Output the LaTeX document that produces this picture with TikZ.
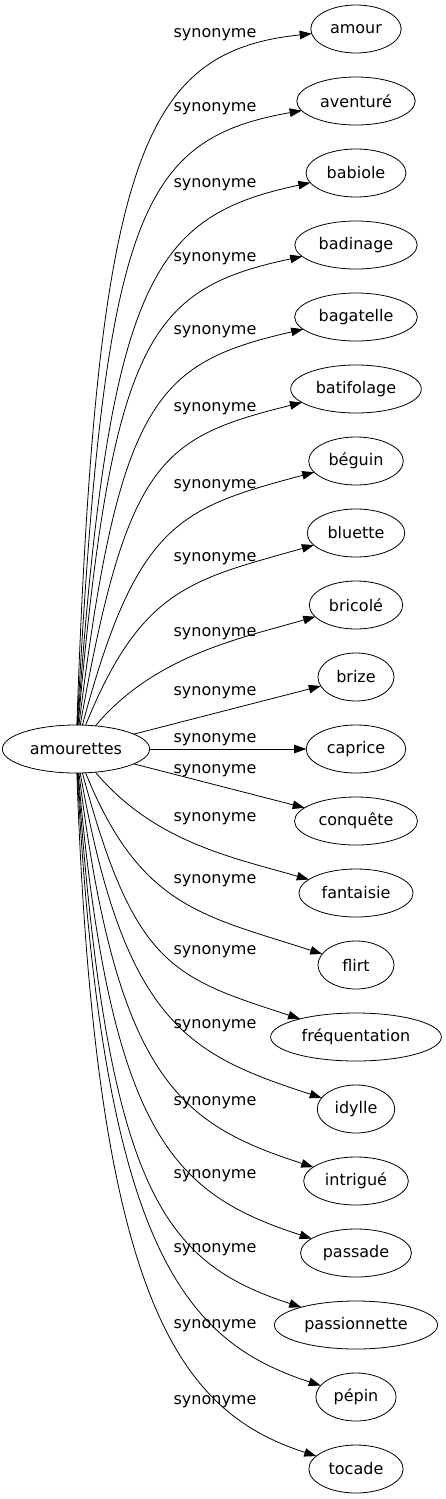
\documentclass[tikz,border=0pt]{standalone}
\usepackage{fontspec}
\setmainfont{DejaVu Sans}
\usetikzlibrary{positioning,arrows.meta,shapes.geometric}

\begin{document}
\begin{tikzpicture}[x=1pt,y=1pt,
         word/.style = {draw, ellipse, line width=0.8pt, minimum height=48pt,
         minimum width=76pt, inner xsep=6pt, inner ysep=2pt, outer sep=0pt,
         font=\fontsize{16pt}{19pt}\selectfont},
         rel/.style  = {line width=0.8pt, -{Triangle[length=12pt,width=8.5pt]}},
         syn/.style  = {anchor=base, inner sep=0pt,
         font=\fontsize{16pt}{19pt}\selectfont}
]
      \useasboundingbox (0,0) rectangle (446,-1499);

      \node[word] (a0) at (76,-749) {amourettes};

      % synonyms, one column
      \node[word]                    (t01) at (356,-29) {amour};
      \node[word, below=24pt of t01] (t02) {aventuré};
      \node[word, below=24pt of t02] (t03) {babiole};
      \node[word, below=24pt of t03] (t04) {badinage};
      \node[word, below=24pt of t04] (t05) {bagatelle};
      \node[word, below=24pt of t05] (t06) {batifolage};
      \node[word, below=24pt of t06] (t07) {béguin};
      \node[word, below=24pt of t07] (t08) {bluette};
      \node[word, below=24pt of t08] (t09) {bricolé};
      \node[word, below=24pt of t09] (t10) {brize};
      \node[word, below=24pt of t10] (t11) {caprice};
      \node[word, below=24pt of t11] (t12) {conquête};
      \node[word, below=24pt of t12] (t13) {fantaisie};
      \node[word, below=24pt of t13] (t14) {flirt};
      \node[word, below=24pt of t14] (t15) {fréquentation};
      \node[word, below=24pt of t15] (t16) {idylle};
      \node[word, below=24pt of t16] (t17) {intrigué};
      \node[word, below=24pt of t17] (t18) {passade};
      \node[word, below=24pt of t18] (t19) {passionnette};
      \node[word, below=24pt of t19] (t20) {pépin};
      \node[word, below=24pt of t20] (t21) {tocade};

      % edges up
      \draw[rel] (a0) to[out=88,in=186,out distance=570pt,in distance=170pt] (t01);
      \draw[rel] (a0) to[out=87,in=190,out distance=510pt,in distance=165pt] (t02);
      \draw[rel] (a0) to[out=86,in=192,out distance=450pt,in distance=160pt] (t03);
      \draw[rel] (a0) to[out=85,in=192,out distance=390pt,in distance=155pt] (t04);
      \draw[rel] (a0) to[out=83,in=193,out distance=330pt,in distance=150pt] (t05);
      \draw[rel] (a0) to[out=80,in=194,out distance=270pt,in distance=145pt] (t06);
      \draw[rel] (a0) to[out=75,in=195,out distance=210pt,in distance=140pt] (t07);
      \draw[rel] (a0) to[out=68,in=196,out distance=150pt,in distance=125pt] (t08);
      \draw[rel] (a0) to[out=50,in=196,out distance=91pt,in distance=80pt]   (t09);
      \draw[rel] (a0) -- (t10);
      \draw[rel] (a0) -- (t11);
      \draw[rel] (a0) -- (t12);
      % edges down
      \draw[rel] (a0) to[out=-50,in=164,out distance=91pt,in distance=80pt]   (t13);
      \draw[rel] (a0) to[out=-68,in=162,out distance=146pt,in distance=125pt] (t14);
      \draw[rel] (a0) to[out=-75,in=162,out distance=200pt,in distance=135pt] (t15);
      \draw[rel] (a0) to[out=-80,in=162,out distance=255pt,in distance=140pt] (t16);
      \draw[rel] (a0) to[out=-83,in=162,out distance=310pt,in distance=140pt] (t17);
      \draw[rel] (a0) to[out=-85,in=162,out distance=365pt,in distance=145pt] (t18);
      \draw[rel] (a0) to[out=-86,in=162,out distance=420pt,in distance=145pt] (t19);
      \draw[rel] (a0) to[out=-87,in=162,out distance=474pt,in distance=145pt] (t20);
      \draw[rel] (a0) to[out=-88,in=162,out distance=529pt,in distance=145pt] (t21);

      % edge labels
      \node[syn] (l01) at (215,-37)   {synonyme};
      \node[syn] (l02) at (215,-111)  {synonyme};
      \node[syn] (l03) at (215,-187)  {synonyme};
      \node[syn] (l04) at (215,-261)  {synonyme};
      \node[syn] (l05) at (215,-334)  {synonyme};
      \node[syn] (l06) at (215,-411)  {synonyme};
      \node[syn] (l07) at (215,-488)  {synonyme};
      \node[syn] (l08) at (215,-561)  {synonyme};
      \node[syn] (l09) at (215,-636)  {synonyme};
      \node[syn] (l10) at (215,-695)  {synonyme};
      \node[syn] (l11) at (215,-742)  {synonyme};
      \node[syn] (l12) at (215,-773)  {synonyme};
      \node[syn] (l13) at (215,-821)  {synonyme};
      \node[syn] (l14) at (215,-883)  {synonyme};
      \node[syn] (l15) at (215,-954)  {synonyme};
      \node[syn] (l16) at (215,-1028) {synonyme};
      \node[syn] (l17) at (215,-1105) {synonyme};
      \node[syn] (l18) at (215,-1178) {synonyme};
      \node[syn] (l19) at (215,-1252) {synonyme};
      \node[syn] (l20) at (215,-1328) {synonyme};
      \node[syn] (l21) at (215,-1404) {synonyme};
\end{tikzpicture}
\end{document}
